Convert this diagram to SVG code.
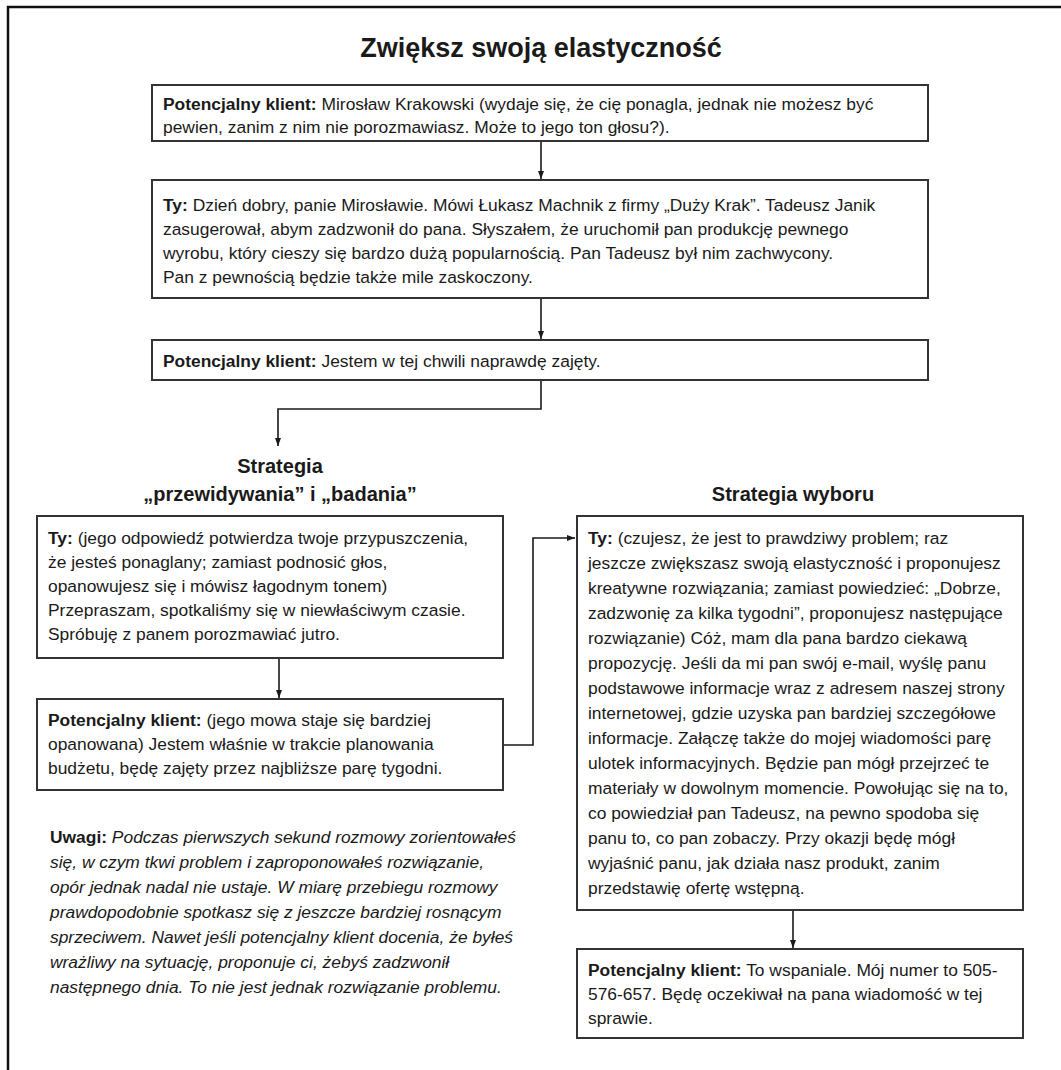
<svg xmlns="http://www.w3.org/2000/svg" width="1061" height="1070" viewBox="0 0 1061 1070">
<style>
text{font-family:"Liberation Sans",Arial,sans-serif;fill:#1a1a1a}
.t{font-size:17.4px}
.b{font-weight:bold}
.i{font-style:italic}
.h{font-size:20px;font-weight:bold;text-anchor:middle}
.title{font-size:27px;font-weight:bold;text-anchor:middle}
.box{fill:#fff;stroke:#333;stroke-width:2}
.con{fill:none;stroke:#1a1a1a;stroke-width:1.6}
</style>
<defs>
<marker id="ah" markerWidth="10" markerHeight="10" refX="9" refY="5" orient="auto" markerUnits="userSpaceOnUse">
<path d="M1,2 L9,5 L1,8 Z" fill="#1a1a1a"/>
</marker>
</defs>
<rect width="1061" height="1070" fill="#fff"/>
<path d="M8,1070 V7 H1061" fill="none" stroke="#111" stroke-width="2.5"/>
<text class="title" x="541" y="57">Zwiększ swoją elastyczność</text>

<g id="connectors">
<path class="con" d="M541,141 V179" marker-end="url(#ah)"/>
<path class="con" d="M541,298 V339" marker-end="url(#ah)"/>
<path class="con" d="M541,380 V409 H278 V446" marker-end="url(#ah)"/>
<path class="con" d="M279,658 V698" marker-end="url(#ah)"/>
<path class="con" d="M503,745 H533 V538 H575" marker-end="url(#ah)"/>
<path class="con" d="M793,910 V948" marker-end="url(#ah)"/>
</g>

<g id="n1">
<rect class="box" x="152" y="85" width="776" height="56"/>
<text class="t" x="163" y="110"><tspan class="b">Potencjalny klient:</tspan> Mirosław Krakowski (wydaje się, że cię ponagla, jednak nie możesz być</text>
<text class="t" x="163" y="133">pewien, zanim z nim nie porozmawiasz. Może to jego ton głosu?).</text>
</g>

<g id="n2">
<rect class="box" x="152" y="180" width="776" height="118"/>
<text class="t" x="163" y="211"><tspan class="b">Ty:</tspan> Dzień dobry, panie Mirosławie. Mówi Łukasz Machnik z firmy „Duży Krak”. Tadeusz Janik</text>
<text class="t" x="163" y="235">zasugerował, abym zadzwonił do pana. Słyszałem, że uruchomił pan produkcję pewnego</text>
<text class="t" x="163" y="259">wyrobu, który cieszy się bardzo dużą popularnością. Pan Tadeusz był nim zachwycony.</text>
<text class="t" x="163" y="283">Pan z pewnością będzie także mile zaskoczony.</text>
</g>

<g id="n3">
<rect class="box" x="152" y="340" width="776" height="40"/>
<text class="t" x="163" y="367"><tspan class="b">Potencjalny klient:</tspan> Jestem w tej chwili naprawdę zajęty.</text>
</g>

<g id="h1">
<text class="h" x="280" y="473">Strategia</text>
<text class="h" x="280" y="501">„przewidywania” i „badania”</text>
</g>

<g id="h2">
<text class="h" x="793" y="501">Strategia wyboru</text>
</g>

<g id="nA">
<rect class="box" x="37" y="516" width="466" height="142"/>
<text class="t" x="48" y="544"><tspan class="b">Ty:</tspan> (jego odpowiedź potwierdza twoje przypuszczenia,</text>
<text class="t" x="48" y="568">że jesteś ponaglany; zamiast podnosić głos,</text>
<text class="t" x="48" y="592">opanowujesz się i mówisz łagodnym tonem)</text>
<text class="t" x="48" y="616">Przepraszam, spotkaliśmy się w niewłaściwym czasie.</text>
<text class="t" x="48" y="640">Spróbuję z panem porozmawiać jutro.</text>
</g>

<g id="nB">
<rect class="box" x="37" y="699" width="466" height="91"/>
<text class="t" x="48" y="726"><tspan class="b">Potencjalny klient:</tspan> (jego mowa staje się bardziej</text>
<text class="t" x="48" y="750">opanowana) Jestem właśnie w trakcie planowania</text>
<text class="t" x="48" y="774">budżetu, będę zajęty przez najbliższe parę tygodni.</text>
</g>

<g id="notes">
<text class="t" x="50" y="843"><tspan class="b">Uwagi:</tspan> <tspan class="i">Podczas pierwszych sekund rozmowy zorientowałeś</tspan></text>
<text class="t i" x="50" y="868">się, w czym tkwi problem i zaproponowałeś rozwiązanie,</text>
<text class="t i" x="50" y="893">opór jednak nadal nie ustaje. W miarę przebiegu rozmowy</text>
<text class="t i" x="50" y="918">prawdopodobnie spotkasz się z jeszcze bardziej rosnącym</text>
<text class="t i" x="50" y="943">sprzeciwem. Nawet jeśli potencjalny klient docenia, że byłeś</text>
<text class="t i" x="50" y="968">wrażliwy na sytuację, proponuje ci, żebyś zadzwonił</text>
<text class="t i" x="50" y="993">następnego dnia. To nie jest jednak rozwiązanie problemu.</text>
</g>

<g id="nC">
<rect class="box" x="577" y="516" width="446" height="394"/>
<text class="t" x="588" y="544"><tspan class="b">Ty:</tspan> (czujesz, że jest to prawdziwy problem; raz</text>
<text class="t" x="588" y="569">jeszcze zwiększasz swoją elastyczność i proponujesz</text>
<text class="t" x="588" y="594">kreatywne rozwiązania; zamiast powiedzieć: „Dobrze,</text>
<text class="t" x="588" y="619">zadzwonię za kilka tygodni”, proponujesz następujące</text>
<text class="t" x="588" y="644">rozwiązanie) Cóż, mam dla pana bardzo ciekawą</text>
<text class="t" x="588" y="669">propozycję. Jeśli da mi pan swój e-mail, wyślę panu</text>
<text class="t" x="588" y="694">podstawowe informacje wraz z adresem naszej strony</text>
<text class="t" x="588" y="719">internetowej, gdzie uzyska pan bardziej szczegółowe</text>
<text class="t" x="588" y="744">informacje. Załączę także do mojej wiadomości parę</text>
<text class="t" x="588" y="769">ulotek informacyjnych. Będzie pan mógł przejrzeć te</text>
<text class="t" x="588" y="794">materiały w dowolnym momencie. Powołując się na to,</text>
<text class="t" x="588" y="819">co powiedział pan Tadeusz, na pewno spodoba się</text>
<text class="t" x="588" y="844">panu to, co pan zobaczy. Przy okazji będę mógł</text>
<text class="t" x="588" y="869">wyjaśnić panu, jak działa nasz produkt, zanim</text>
<text class="t" x="588" y="894">przedstawię ofertę wstępną.</text>
</g>

<g id="nD">
<rect class="box" x="577" y="949" width="446" height="89"/>
<text class="t" x="588" y="976"><tspan class="b">Potencjalny klient:</tspan> To wspaniale. Mój numer to 505-</text>
<text class="t" x="588" y="1000">576-657. Będę oczekiwał na pana wiadomość w tej</text>
<text class="t" x="588" y="1024">sprawie.</text>
</g>
</svg>
